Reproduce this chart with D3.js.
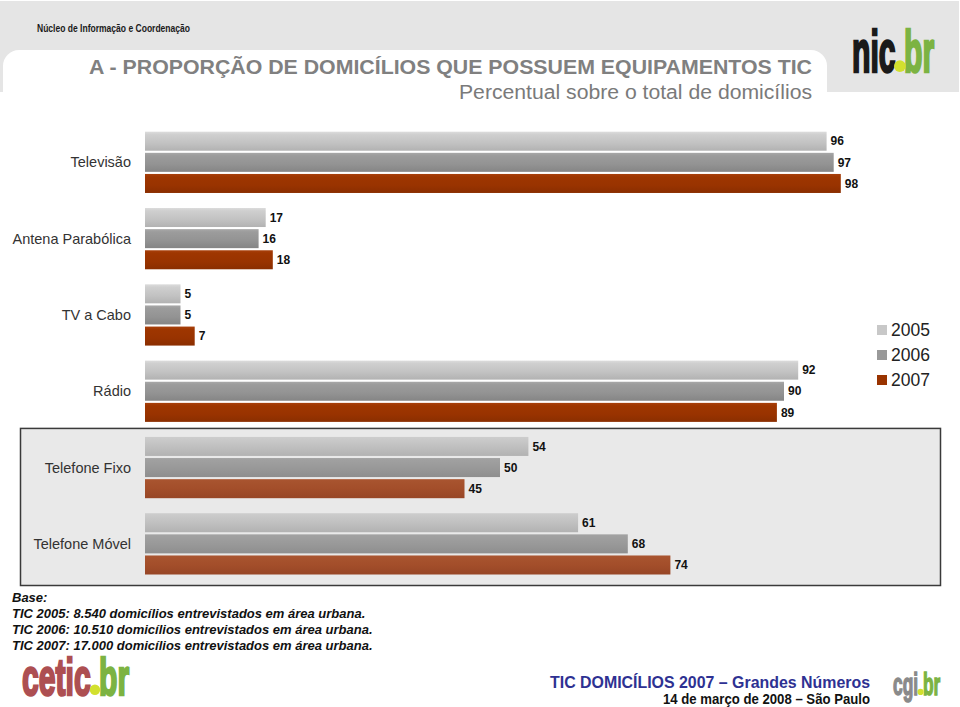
<!DOCTYPE html>
<html>
<head>
<meta charset="utf-8">
<script src="https://cdn.jsdelivr.net/npm/d3@7"></script>
<style>
html,body{margin:0;padding:0;background:#fff;}
svg{display:block;}
text{font-family:"Liberation Sans",Arial,sans-serif;}
</style>
</head>
<body>
<svg id="chart" width="960" height="707"></svg>
<script>
const categories = ["Televisão","Antena Parabólica","TV a Cabo","Rádio","Telefone Fixo","Telefone Móvel"];
const years = ["2005","2006","2007"];
const v2005 = [96,17,5,92,54,61];
const v2006 = [97,16,5,90,50,68];
const v2007 = [98,18,7,89,45,74];
const seriesValues = [v2005, v2006, v2007];
const boxed = ["Telefone Fixo","Telefone Móvel"];
const baseLines = [
  "Base:",
  "TIC 2005: 8.540 domicílios entrevistados em área urbana.",
  "TIC 2006: 10.510 domicílios entrevistados em área urbana.",
  "TIC 2007: 17.000 domicílios entrevistados em área urbana."
];

const svg = d3.select("#chart");
const defs = svg.append("defs");

function grad(id, stops){
  const g = defs.append("linearGradient").attr("id", id)
    .attr("x1",0).attr("y1",0).attr("x2",0).attr("y2",1);
  stops.forEach(s => g.append("stop").attr("offset", s[0]).attr("stop-color", s[1]));
}
grad("g2005", [[0,"#dcdcdc"],[0.15,"#cfcfcf"],[0.6,"#c2c2c2"],[1,"#b2b2b2"]]);
grad("g2006", [[0,"#a8a8a8"],[0.15,"#9c9c9c"],[0.6,"#939393"],[1,"#858585"]]);
grad("g2007", [[0,"#a8400c"],[0.15,"#9e3600"],[0.6,"#993300"],[1,"#8a2e00"]]);
grad("b2005", [[0,"#cdcdcd"],[0.5,"#c0c0c0"],[1,"#b2b2b2"]]);
grad("b2006", [[0,"#a2a2a2"],[0.5,"#999999"],[1,"#8e8e8e"]]);
grad("b2007", [[0,"#a95530"],[0.5,"#a34e2a"],[1,"#974626"]]);

// Header
svg.append("rect").attr("x",0).attr("y",1).attr("width",959).attr("height",91).attr("fill","#e5e5e5");
svg.append("rect").attr("x",3).attr("y",50).attr("width",824).attr("height",80).attr("rx",16).attr("fill","#fff");
svg.append("rect").attr("x",0).attr("y",92).attr("width",960).attr("height",40).attr("fill","#fff");

svg.append("text").attr("x",37).attr("y",32)
  .attr("textLength",153).attr("lengthAdjust","spacingAndGlyphs")
  .style("font-weight","bold").style("font-size","11px").attr("fill","#1a1a1a")
  .text("Núcleo de Informação e Coordenação");

svg.append("text").attr("x",812).attr("y",74).attr("text-anchor","end")
  .attr("textLength",723).attr("lengthAdjust","spacingAndGlyphs")
  .style("font-weight","bold").style("font-size","20px").attr("fill","#808080")
  .text("A - PROPORÇÃO DE DOMICÍLIOS QUE POSSUEM EQUIPAMENTOS TIC");
svg.append("text").attr("x",812).attr("y",99).attr("text-anchor","end")
  .attr("textLength",353).attr("lengthAdjust","spacingAndGlyphs")
  .style("font-size","19.5px").attr("fill","#7a7a7a")
  .text("Percentual sobre o total de domicílios");

// logo helper: condensed bold wordmark with yellow dot
function logo(x, y, size, sx, sy, mainText, mainColor, sw){
  const g = svg.append("g").attr("transform", `translate(${x},${y}) scale(${sx},${sy})`);
  const t = g.append("text").attr("x",0).attr("y",0)
    .style("font-weight","bold").style("font-size",size+"px");
  t.append("tspan").attr("fill",mainColor).attr("stroke",mainColor).attr("stroke-width",sw).text(mainText);
  t.append("tspan").attr("fill","none").text(".");
  t.append("tspan").attr("fill","#7cb342").attr("stroke","#7cb342").attr("stroke-width",sw).text("br");
  const ext = t.node().getExtentOfChar(mainText.length);
  const r = size*0.1*sy;
  svg.append("circle").attr("cx", x + (ext.x + ext.width/2)*sx).attr("cy", y - r)
    .attr("r", r).attr("fill","#d2e02e");
}
logo(852, 72, 56, 0.54, 1.05, "nic", "#1a1a1a", 2.5);
logo(22, 695, 52, 0.58, 1.0, "cetic", "#ad4f52", 2.5);
logo(893, 695, 31, 0.56, 1.0, "cgi", "#8a8a8a", 1.5);

// Scales
const x = d3.scaleLinear().domain([0,100]).range([145,855]);
const y = d3.scaleBand().domain(categories).range([131.7,574.5]).paddingInner(0.197).paddingOuter(0);
const yi = d3.scaleBand().domain(years).range([0,y.bandwidth()]).paddingInner(0.1).paddingOuter(0);

// Box around telefone
const boxTop = y(boxed[0]) - 8.5;
const boxBot = y(boxed[1]) + y.bandwidth() + 11;
svg.append("rect").attr("x",20.5).attr("y",boxTop).attr("width",920).attr("height",boxBot-boxTop)
  .attr("fill","#e9e9e9").attr("stroke","#3a3a3a").attr("stroke-width",1.5);

// Category labels
svg.append("g").selectAll("text").data(categories).join("text")
  .attr("x",131).attr("y", d => y(d) + yi("2006") + yi.bandwidth()/2)
  .attr("dy","0.35em").attr("text-anchor","end")
  .style("font-size","14.5px").attr("fill","#333")
  .text(d => d);

// Bars
const rows = [];
categories.forEach((c,i) => years.forEach((yr,j) => rows.push({cat:c, year:yr, value:seriesValues[j][i], boxed: boxed.includes(c)})));

svg.append("g").selectAll("rect").data(rows).join("rect")
  .attr("x", x(0))
  .attr("y", d => y(d.cat) + yi(d.year))
  .attr("width", d => x(d.value) - x(0))
  .attr("height", yi.bandwidth())
  .attr("fill", d => `url(#${d.boxed ? "b" : "g"}${d.year})`);

svg.append("g").selectAll("text").data(rows).join("text")
  .attr("x", d => x(d.value) + 4)
  .attr("y", d => y(d.cat) + yi(d.year) + yi.bandwidth()/2)
  .attr("dy","0.35em")
  .style("font-size","12px").style("font-weight","bold").attr("fill","#111")
  .text(d => d.value);

// Legend
const legColors = {"2005":"#c8c8c8","2006":"#999999","2007":"#993300"};
const leg = svg.append("g");
years.forEach((yr,i) => {
  const ly = 330 + i*25;
  leg.append("rect").attr("x",877).attr("y",ly-5).attr("width",10).attr("height",10).attr("fill",legColors[yr]);
  leg.append("text").attr("x",891).attr("y",ly).attr("dy","0.36em")
    .style("font-size","17.5px").attr("fill","#222").text(yr);
});

// Base notes
svg.append("g").selectAll("text").data(baseLines).join("text")
  .attr("x",12).attr("y",(d,i) => 602 + i*16)
  .style("font-size","13px").style("font-weight","bold").style("font-style","italic").attr("fill","#111")
  .text(d => d);

// Footer
svg.append("text").attr("x",870).attr("y",688).attr("text-anchor","end")
  .attr("textLength",320).attr("lengthAdjust","spacingAndGlyphs")
  .style("font-size","17px").style("font-weight","bold").attr("fill","#2e3192")
  .text("TIC DOMICÍLIOS 2007 – Grandes Números");
svg.append("text").attr("x",870).attr("y",704).attr("text-anchor","end")
  .attr("textLength",207).attr("lengthAdjust","spacingAndGlyphs")
  .style("font-size","14px").style("font-weight","bold").attr("fill","#111")
  .text("14 de março de 2008 – São Paulo");
</script>
</body>
</html>
